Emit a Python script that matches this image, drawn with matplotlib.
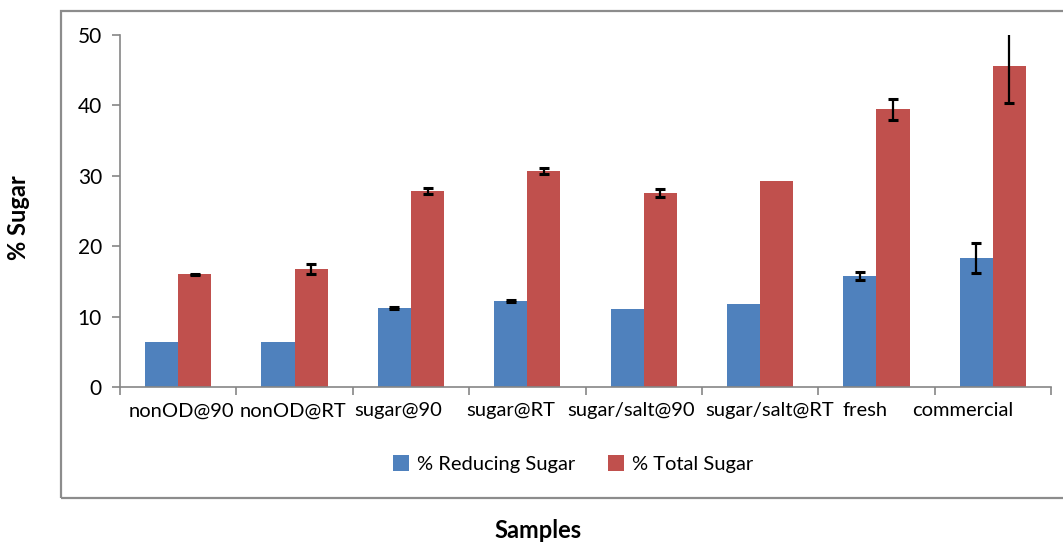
import matplotlib.pyplot as plt
import numpy as np
from matplotlib.patches import Rectangle
from matplotlib.transforms import ScaledTranslation

# Дані
samples = ["nonOD@90", "nonOD@RT", "sugar@90", "sugar@RT",
           "sugar/salt@90", "sugar/salt@RT", "fresh", "commercial"]
reducing = [6.4, 6.4, 11.2, 12.25, 11.07, 11.8, 15.75, 18.3]
reducing_err = [0, 0, 0.1, 0.12, 0, 0, 0.6, 2.15]
total = [16.0, 16.75, 27.86, 30.7, 27.5, 29.3, 39.4, 45.5]
total_err = [0.1, 0.65, 0.4, 0.4, 0.55, 0, 1.45, 5.2]

# зсуви підписів по x (у пікселях), як у вихідному рисунку
label_shift = [3, -2, -13, -17, -13, 10, -11, -30]

blue = "#4F81BD"
red = "#C0504D"
axis_gray = "#868686"

plt.rcParams["font.family"] = ["Lato", "DejaVu Sans"]

fig = plt.figure(figsize=(10.63, 5.44), dpi=100)
ax = fig.add_axes([120 / 1063, 157 / 544, 931 / 1063, 352.3 / 544])

x = np.arange(len(samples))
w = 0.285
ax.bar(x - w / 2, reducing, w, color=blue, label="% Reducing Sugar")
ax.bar(x + w / 2, total, w, color=red, label="% Total Sugar")

# похибки лише там, де вони є
ekw = dict(fmt="none", ecolor="black", elinewidth=1.6, capsize=3.6,
           capthick=2.2)
for shift, vals, errs in [(-w / 2, reducing, reducing_err),
                          (w / 2, total, total_err)]:
    vals = np.array(vals)
    errs = np.array(errs)
    m = errs > 0
    ax.errorbar(x[m] + shift, vals[m], yerr=errs[m], **ekw)

ax.set_xlim(-0.5, len(samples) - 0.5)
ax.set_ylim(0, 50)
ax.set_yticks(range(0, 51, 10))

# категорії: мітки по межах, підписи по центрах
ax.set_xticks(np.arange(-0.5, len(samples)), minor=False)
ax.set_xticklabels([])
ax.set_xticks(x, minor=True)
ax.set_xticklabels(samples, minor=True, fontsize=14.5)
ax.tick_params(axis="x", which="minor", length=0, pad=11)
ax.tick_params(axis="x", which="major", length=6, color=axis_gray, width=1.2)
ax.tick_params(axis="y", length=6, color=axis_gray, width=1.2,
               labelsize=15, pad=7)
for lab, dx in zip(ax.get_xticklabels(minor=True), label_shift):
    lab.set_transform(lab.get_transform()
                      + ScaledTranslation(dx / 100, 0, fig.dpi_scale_trans))

for side in ["top", "right"]:
    ax.spines[side].set_visible(False)
for side in ["left", "bottom"]:
    ax.spines[side].set_color(axis_gray)
    ax.spines[side].set_linewidth(1.2)

ax.legend(loc="center", bbox_to_anchor=(573 / 1063, 1 - 464 / 544),
          bbox_transform=fig.transFigure, ncol=2, frameon=False,
          fontsize=14.5, handlelength=0.8, handleheight=0.8,
          handletextpad=0.4, columnspacing=1.6)

# рамка області діаграми
fig.patches.append(Rectangle((61 / 1063, 46 / 544), 1.1, 487 / 544,
                             transform=fig.transFigure, fill=False,
                             edgecolor="#8c8c8c", linewidth=1.6))

fig.text(538 / 1063, 1 - 530 / 544, "Samples", ha="center", va="center",
         fontsize=17, fontweight="bold")
fig.text(18 / 1063, 1 - 218 / 544, "% Sugar", ha="center", va="center",
         rotation=90, fontsize=17, fontweight="bold")

fig.savefig("out.png", dpi=100)
